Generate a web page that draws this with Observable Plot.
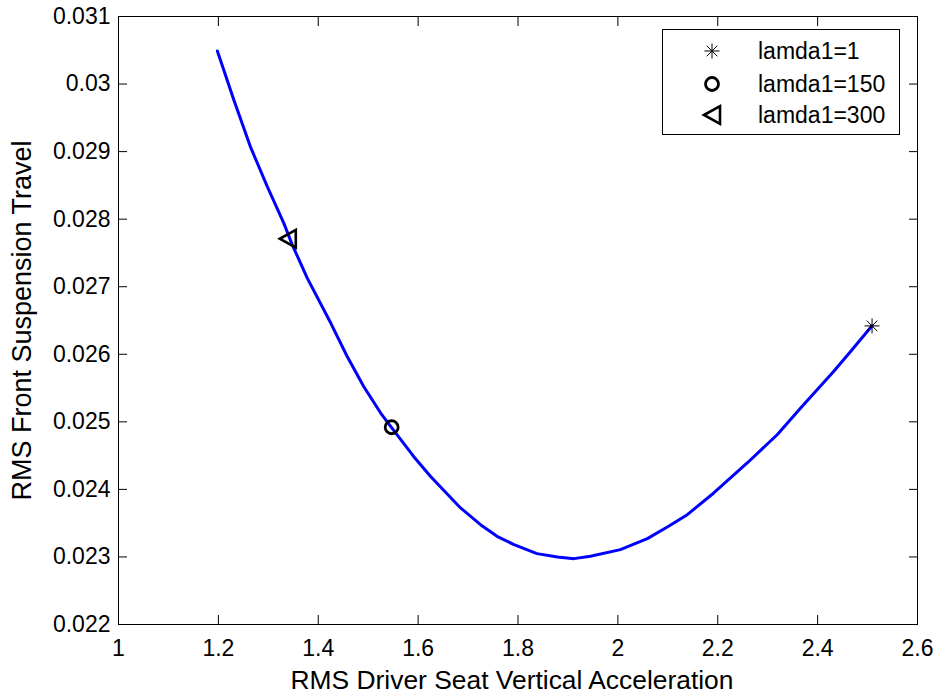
<!DOCTYPE html>
<html><head><meta charset="utf-8">
<script src="https://cdn.jsdelivr.net/npm/d3@7"></script>
<script src="https://cdn.jsdelivr.net/npm/@observablehq/plot@0.6"></script>
<style>
body{margin:0;background:#fff;}
#wrap{position:relative;width:940px;height:697px;}
#legend{position:absolute;left:662px;top:29px;width:238px;height:106px;border:1px solid #000;background:#fff;font-family:"Liberation Sans",Arial,sans-serif;font-size:23px;color:#000;box-sizing:border-box;}
#legend .lab{position:absolute;left:95px;line-height:26px;white-space:nowrap;}
#legend svg{position:absolute;overflow:visible;}
</style></head><body><div id="wrap"></div>
<script>
// Pareto curve (x: RMS driver seat vertical acceleration, y: RMS front suspension travel)
const accelX = [1.198, 1.231, 1.264, 1.298, 1.331, 1.348, 1.378, 1.425, 1.458, 1.491, 1.525, 1.545, 1.591, 1.625, 1.685, 1.725, 1.758, 1.792, 1.838, 1.879, 1.912, 1.945, 2.005, 2.059, 2.099, 2.139, 2.192, 2.259, 2.319, 2.366, 2.399, 2.432, 2.466, 2.509];
const travelY = [0.03049, 0.029765, 0.029074, 0.028482, 0.027941, 0.02762, 0.027127, 0.026462, 0.025967, 0.025524, 0.02513, 0.024932, 0.024488, 0.024192, 0.023725, 0.023478, 0.023305, 0.023182, 0.023049, 0.023, 0.022975, 0.023009, 0.023108, 0.023271, 0.023444, 0.023626, 0.023947, 0.024391, 0.024809, 0.025204, 0.025475, 0.025746, 0.026041, 0.026422];

const markerLabels = ["lamda1=1", "lamda1=150", "lamda1=300"];
const markerX = [2.509, 1.547, 1.339];
const markerY = [0.02642, 0.02492, 0.02771];

const xTicks = [1, 1.2, 1.4, 1.6, 1.8, 2, 2.2, 2.4, 2.6];
const yTicks = [0.022, 0.023, 0.024, 0.025, 0.026, 0.027, 0.028, 0.029, 0.03, 0.031];
const xLabel = "RMS Driver Seat Vertical Acceleration";
const yLabel = "RMS Front Suspension Travel";

// custom MATLAB-like symbols
const starSym = {draw(ctx, size){ const r = Math.sqrt(size/Math.PI), d = r*0.7071;
  ctx.moveTo(-r,0); ctx.lineTo(r,0); ctx.moveTo(0,-r); ctx.lineTo(0,r);
  ctx.moveTo(-d,-d); ctx.lineTo(d,d); ctx.moveTo(-d,d); ctx.lineTo(d,-d); }};
const triSym = {draw(ctx, size){ const r = Math.sqrt(size/Math.PI);
  ctx.moveTo(-r,0); ctx.lineTo(r,-r*1.1); ctx.lineTo(r,r*1.1); ctx.closePath(); }};
const circSym = {draw(ctx, size){ const r = Math.sqrt(size/Math.PI);
  ctx.moveTo(r,0); ctx.arc(0,0,r,0,2*Math.PI); ctx.closePath(); }};
const markerStyle = [
  {symbol: starSym, r: 7.5, strokeWidth: 1},
  {symbol: circSym, r: 6.5, strokeWidth: 2.8},
  {symbol: triSym, r: 8, strokeWidth: 2.6}
];

const curve = accelX.map((x, i) => ({x, y: travelY[i]}));
const font = '"Liberation Sans", Arial, sans-serif';

const chart = Plot.plot({
  width: 940, height: 697,
  marginLeft: 118, marginRight: 23, marginTop: 16, marginBottom: 73,
  x: {domain: [1, 2.6]},
  y: {domain: [0.022, 0.031]},
  style: {fontFamily: font, fontSize: "23px", background: "white", color: "black"},
  marks: [
    Plot.axisX(xTicks, {anchor: "bottom", tickSize: -9, tickPadding: 24, tickFormat: d => String(d), label: null, fontSize: 23}),
    Plot.axisX(xTicks, {anchor: "top", tickSize: -9, tickFormat: () => "", label: null}),
    Plot.axisY(yTicks, {anchor: "left", tickSize: -9, tickPadding: 17, tickFormat: d => String(d), label: null, fontSize: 23}),
    Plot.axisY(yTicks, {anchor: "right", tickSize: -9, tickFormat: () => "", label: null}),
    Plot.frame({stroke: "black", strokeWidth: 1}),
    Plot.line(curve, {x: "x", y: "y", stroke: "#0000ff", strokeWidth: 3}),
    ...markerStyle.map((s, i) => Plot.dot([i], {x: j => markerX[j], y: j => markerY[j], symbol: s.symbol, r: s.r, stroke: "black", strokeWidth: s.strokeWidth, fill: "none"})),
    Plot.text([xLabel], {text: d => d, frameAnchor: "bottom", dx: -6, dy: 56, fontSize: 26.4, textAnchor: "middle", lineAnchor: "middle"}),
    Plot.text([yLabel], {text: d => d, frameAnchor: "left", dx: -96, rotate: -90, fontSize: 27, textAnchor: "middle", lineAnchor: "middle"})
  ]
});
const wrap = document.getElementById("wrap");
wrap.appendChild(chart);

// legend
const legend = d3.select(wrap).append("div").attr("id", "legend");
const rowY = [21, 54, 85];
markerLabels.forEach((lab, i) => {
  const s = markerStyle[i];
  const svg = legend.append("svg").attr("width", 30).attr("height", 30)
    .style("left", (49 - 15) + "px").style("top", (rowY[i] - 15) + "px");
  svg.append("path").attr("transform", "translate(15,15)")
    .attr("d", d3.symbol(s.symbol, s.r * s.r * Math.PI)())
    .attr("fill", "none").attr("stroke", "black").attr("stroke-width", s.strokeWidth);
  legend.append("div").attr("class", "lab").style("top", (rowY[i] - 13) + "px").text(lab);
});
</script>
</body></html>
